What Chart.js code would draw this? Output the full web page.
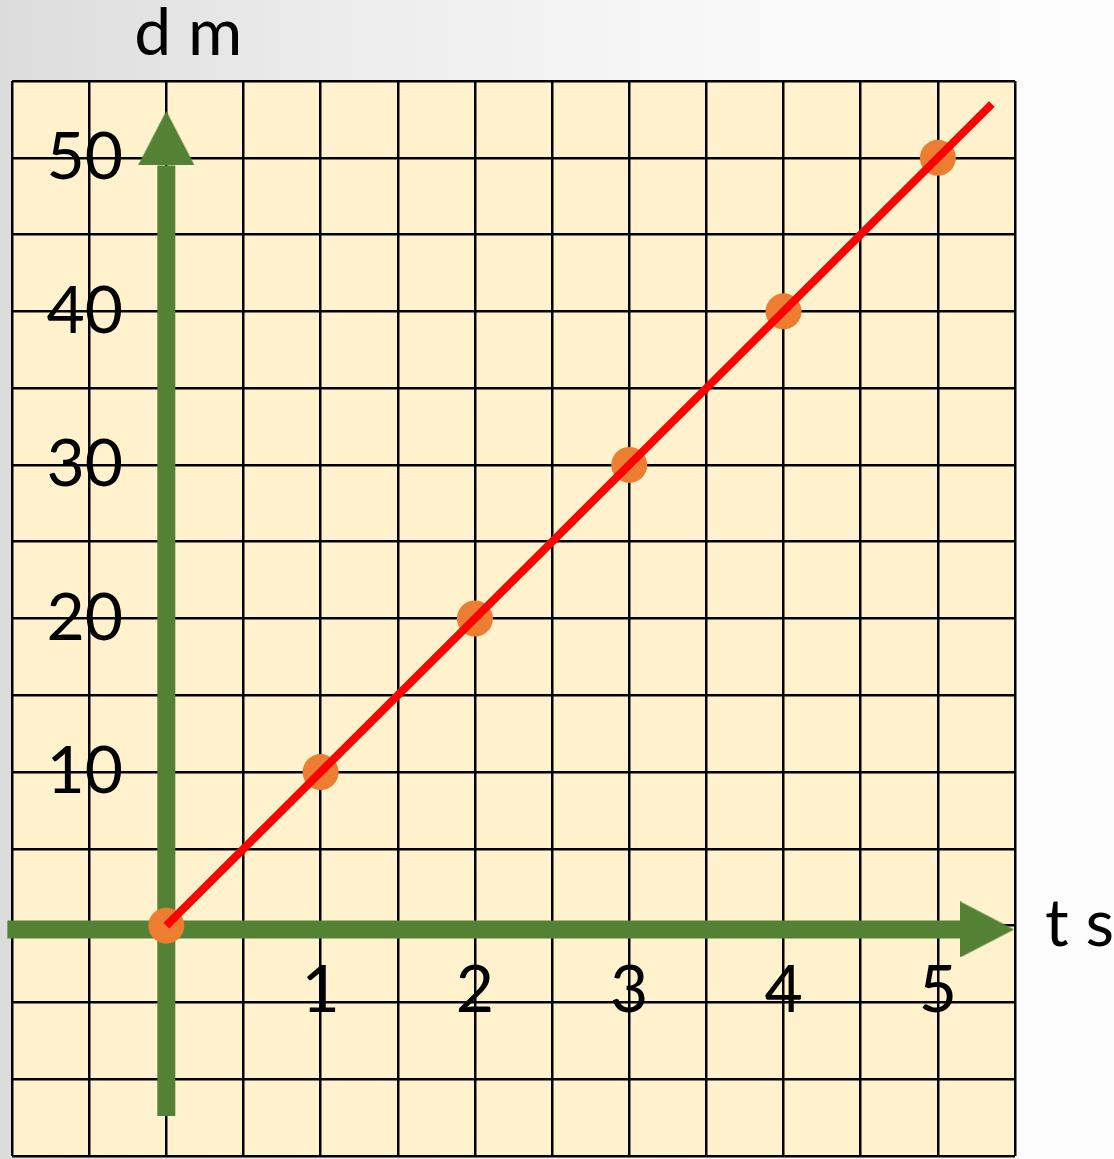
<!DOCTYPE html>
<html>
<head>
<meta charset="utf-8">
<script src="https://cdn.jsdelivr.net/npm/chart.js@4/dist/chart.umd.min.js"></script>
<style>
  html, body { margin: 0; padding: 0; }
  body {
    width: 1114px; height: 1159px; overflow: hidden;
    background: linear-gradient(to right, #dcdcdc 0%, #ececec 30%, #f8f8f8 65%, #fdfdfd 100%);
  }
  #wrap { position: absolute; left: 0; top: 0; width: 1114px; height: 1159px; }
</style>
</head>
<body>
<div id="wrap"><canvas id="c" width="1114" height="1159"></canvas></div>
<script>
// ---- data ----
const timeValues = [0, 1, 2, 3, 4, 5];            // t (s)
const distValues = [0, 10, 20, 30, 40, 50];       // d (m)
const xTickLabels = ['1', '2', '3', '4', '5'];
const yTickLabels = ['10', '20', '30', '40', '50'];
const xAxisTitle = 't s';
const yAxisTitle = 'd m';

// red straight line (drawn through the points, extended past the last one)
const fitLineT = [0, 5.35];
const fitLineD = [0, 53.5];

// green axis arrows
const vAxisT = [0, 0];
const vAxisD = [-12.4, 49.5];
const hAxisT = [-1.03, 5.15];
const hAxisD = [-0.25, -0.25];
const vArrowT = [0];
const vArrowD = [51.3];
const hArrowT = [5.32];
const hArrowD = [-0.25];

// grid range
const xMin = -1, xMax = 5.5, xStep = 0.5;
const yMin = -15, yMax = 55, yStep = 5;
// where the tick-label column sits (in data units)
const yLabelColumnAt = -0.28;

const GREEN = '#548235';
const ORANGE = '#ED7D31';
const RED = '#FF0000';
const CREAM = '#FFF2CC';
const FONT = 'Lato, "Open Sans", sans-serif';

const toPts = (xs, ys) => xs.map((x, i) => ({x: x, y: ys[i]}));

// arrow head image
function arrowHead(w, h) {
  const cv = document.createElement('canvas');
  cv.width = w; cv.height = h;
  const g = cv.getContext('2d');
  g.fillStyle = GREEN;
  g.beginPath();
  g.moveTo(0, h); g.lineTo(w / 2, 0); g.lineTo(w, h); g.closePath();
  g.fill();
  return cv;
}
const arrowImg = arrowHead(56, 54);

const bgPlugin = {
  id: 'bg',
  beforeDraw(chart) {
    const {ctx, chartArea: a} = chart;
    ctx.save();
    ctx.fillStyle = CREAM;
    ctx.fillRect(a.left, a.top, a.right - a.left, a.bottom - a.top);
    ctx.restore();
  },
  afterDraw(chart) {
    const {ctx, chartArea: a, scales} = chart;
    ctx.save();
    ctx.fillStyle = '#000';
    ctx.font = '66px ' + FONT;
    ctx.textBaseline = 'alphabetic';
    ctx.textAlign = 'center';
    ctx.fillText(yAxisTitle, scales.x.getPixelForValue(0) + 22, 55);
    ctx.textAlign = 'left';
    ctx.fillText(xAxisTitle, a.right + 30, scales.y.getPixelForValue(0) + 20);
    ctx.restore();
  }
};

const zeroPad = (s) => { s.paddingTop = 0; s.paddingBottom = 0; s.paddingLeft = 0; s.paddingRight = 0; };

new Chart(document.getElementById('c'), {
  type: 'scatter',
  data: {
    datasets: [
      {
        type: 'line', data: toPts(fitLineT, fitLineD), borderColor: RED, borderWidth: 8,
        pointRadius: 0, fill: false, order: 0, borderCapStyle: 'butt'
      },
      {
        data: toPts(timeValues, distValues), backgroundColor: ORANGE, borderWidth: 0,
        pointRadius: 18, order: 1
      },
      {
        data: toPts(vArrowT, vArrowD), pointStyle: arrowImg, pointRadius: 10, pointRotation: 0, order: 2, clip: false
      },
      {
        data: toPts(hArrowT, hArrowD), pointStyle: arrowImg, pointRadius: 10, pointRotation: 90, order: 2, clip: false
      },
      {
        type: 'line', data: toPts(vAxisT, vAxisD), borderColor: GREEN, borderWidth: 18,
        pointRadius: 0, fill: false, order: 3, clip: false, borderCapStyle: 'butt'
      },
      {
        type: 'line', data: toPts(hAxisT, hAxisD), borderColor: GREEN, borderWidth: 18,
        pointRadius: 0, fill: false, order: 3, clip: false, borderCapStyle: 'butt'
      }
    ]
  },
  options: {
    responsive: false,
    animation: false,
    events: [],
    layout: { autoPadding: false, padding: { left: 12, top: 81, right: 99, bottom: 3 } },
    plugins: { legend: { display: false }, tooltip: { enabled: false } },
    scales: {
      x: {
        type: 'linear', min: xMin, max: xMax,
        position: { y: 0 },
        afterFit: zeroPad,
        border: { display: false },
        grid: { color: '#000', lineWidth: 2.5, drawTicks: false },
        ticks: {
          stepSize: xStep, autoSkip: false, maxRotation: 0, padding: 25,
          color: '#000', font: { family: FONT, size: 66 },
          callback: (v) => { const i = timeValues.indexOf(v); return i > 0 ? xTickLabels[i - 1] : ''; }
        }
      },
      y: {
        type: 'linear', min: yMin, max: yMax,
        position: { x: yLabelColumnAt },
        afterFit: zeroPad,
        border: { display: false },
        grid: { color: '#000', lineWidth: 2.5, drawTicks: false },
        ticks: {
          stepSize: yStep, autoSkip: false, padding: 0,
          color: '#000', font: { family: FONT, size: 66 },
          callback: (v) => { const i = distValues.indexOf(v); return i > 0 ? yTickLabels[i - 1] : ''; }
        }
      }
    }
  },
  plugins: [bgPlugin]
});
</script>
</body>
</html>
